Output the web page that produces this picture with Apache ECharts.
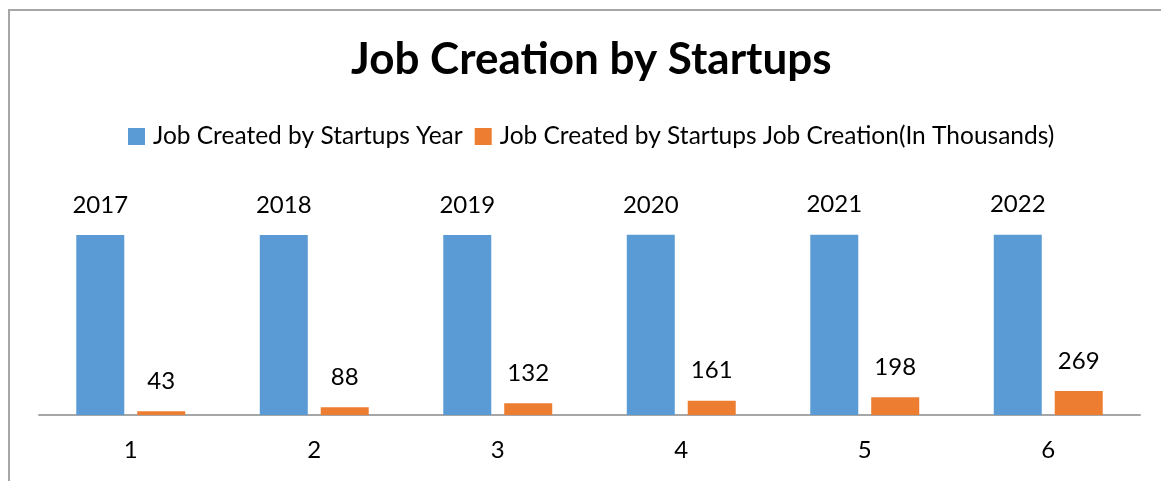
<!DOCTYPE html>
<html>
<head>
<meta charset="utf-8">
<script src="https://cdn.jsdelivr.net/npm/echarts@6/dist/echarts.min.js"></script>
<style>
  html, body { margin: 0; padding: 0; background: #ffffff; }
  #chart { width: 1161px; height: 481px; }
</style>
</head>
<body>
<div id="chart"></div>
<script>
// Category labels along the x axis
const categories = ['1', '2', '3', '4', '5', '6'];
// Year column of the table
const yearValues = [2017, 2018, 2019, 2020, 2021, 2022];
// Jobs created, in thousands
const jobValues = [43, 88, 132, 161, 198, 269];

const seriesNames = [
  'Job Created by Startups Year',
  'Job Created by Startups Job Creation(In Thousands)'
];

const FONT = 'Lato, "Open Sans", sans-serif';

const chart = echarts.init(document.getElementById('chart'), null, { renderer: 'canvas' });

const labelStyle = {
  show: true,
  position: 'top',
  distance: 18,
  color: '#000000',
  fontFamily: FONT,
  fontSize: 24
};

chart.setOption({
  animation: false,
  backgroundColor: '#ffffff',
  title: {
    text: 'Job Creation by Startups',
    left: 346,
    top: 33,
    textStyle: {
      fontFamily: FONT,
      fontWeight: 'bold',
      fontSize: 44,
      color: '#000000'
    }
  },
  legend: {
    top: 119,
    left: 123,
    itemWidth: 17,
    itemHeight: 17,
    itemGap: 12,
    icon: 'rect',
    textStyle: {
      fontFamily: FONT,
      fontSize: 24.5,
      color: '#000000',
      padding: [0, 0, 0, 3]
    },
    data: seriesNames
  },
  graphic: [{
    type: 'rect',
    shape: { x: 9, y: 10, width: 1300, height: 700 },
    style: { fill: 'none', stroke: '#a6a6a6', lineWidth: 2 },
    silent: true
  }],
  grid: { left: 39, right: 21, top: 192, bottom: 66 },
  xAxis: {
    type: 'category',
    data: categories,
    axisLine: { lineStyle: { color: '#a6a6a6', width: 2 } },
    axisTick: { show: false },
    axisLabel: {
      fontFamily: FONT,
      fontSize: 24,
      color: '#000000',
      margin: 23
    }
  },
  yAxis: {
    type: 'value',
    min: 0,
    max: 2500,
    show: false,
    splitLine: { show: false }
  },
  series: [
    {
      name: seriesNames[0],
      type: 'bar',
      data: yearValues,
      barWidth: 48,
      barGap: '27%',
      itemStyle: { color: '#5b9bd5' },
      label: labelStyle
    },
    {
      name: seriesNames[1],
      type: 'bar',
      data: jobValues,
      barWidth: 48,
      itemStyle: { color: '#ed7d31' },
      label: labelStyle
    }
  ]
});
</script>
</body>
</html>
